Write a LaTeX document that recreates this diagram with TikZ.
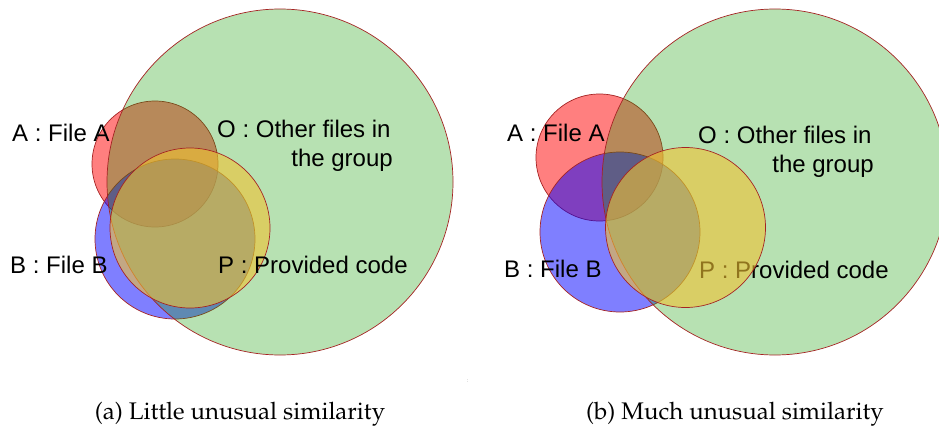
\documentclass[tikz,border=0pt]{standalone}
\usepackage[T1]{fontenc}
\usepackage{fontspec}
\newfontfamily\labfont{Liberation Sans}
\newcommand{\capfont}{\fontencoding{T1}\fontfamily{ppl}\selectfont}
\definecolor{cred}{RGB}{255,0,0}
\definecolor{cblue}{RGB}{0,0,255}
\definecolor{cgreen}{RGB}{26,160,10}
\definecolor{cyellow}{RGB}{241,194,50}
\definecolor{vline}{RGB}{165,35,35}
\begin{document}
\begin{tikzpicture}[x=1pt,y=-1pt,
  venn/.style={circle, inner sep=0pt, outer sep=0pt, draw=vline, line width=0.7pt, fill opacity=0.5},
  greenset/.style={venn, fill=cgreen, fill opacity=0.315, minimum size=346pt},
  yellowset/.style={venn, fill=cyellow, fill opacity=0.6, minimum size=160pt},
  lab/.style={font=\labfont\fontsize{24}{28}\selectfont, inner sep=0pt, anchor=base west},
  labr/.style={lab, anchor=base east},
  captext/.style={font=\capfont\fontsize{24}{28}\selectfont, inner sep=0pt, anchor=base}]
\useasboundingbox (0,0) rectangle (939,428);
\clip (0,0) rectangle (939,428);
% ---------- left panel ----------
\node[venn, fill=cred, minimum size=126pt] (A1) at (155,164) {};
\node[venn, fill=cblue, minimum size=160pt] (B1) at (175,239) {};
\node[greenset] (O1) at (280,182) {};
\node[yellowset] (P1) at (190,228) {};
\node[lab] (LA1) at (12,141.5) {A : File A};
\node[lab] (LO1) at (217,137.5) {O : Other files in};
\node[labr] (LG1) at (393,166) {the group};
\node[lab] (LB1) at (10,273) {B : File B};
\node[lab] (LP1) at (218,273) {P : Provided code};
% ---------- right panel ----------
\node[venn, fill=cred, minimum size=127pt] (A2) at (599.5,157.5) {};
\node[venn, fill=cblue, minimum size=160pt] (B2) at (620,232) {};
\node[greenset] (O2) at (775,182) {};
\node[lab] (LA2) at (507,141.7) {A : File A};
\node[lab] (LO2) at (698,143) {O : Other files in};
\node[labr] (LG2) at (874,172.6) {the group};
\node[lab] (LB2) at (504,277) {B : File B};
\node[lab] (LP2) at (699,278.7) {P : Provided code};
\node[yellowset] (P2) at (685.5,227.5) {};
% ---------- stray mark and captions ----------
\node[inner sep=0pt, text=black!45, font=\fontsize{6}{7}\selectfont] (dots) at (467.5,381) {:};
\node[captext] (capa) at (240,419) {(a) Little unusual similarity};
\node[captext] (capb) at (735,419) {(b) Much unusual similarity};
\end{tikzpicture}
\end{document}
